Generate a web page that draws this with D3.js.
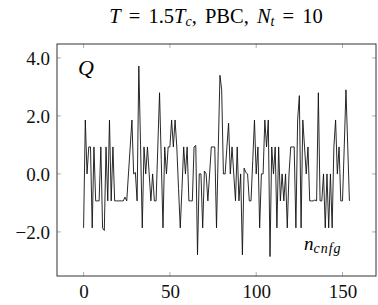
<!DOCTYPE html>
<html><head><meta charset="utf-8">
<script src="https://cdn.jsdelivr.net/npm/d3@7"></script>
<style>body{margin:0;background:#fff}</style>
</head><body><svg id="c" width="378" height="305"></svg>
<script>
const qValues = [
-1.86,1.86,0,0.93,0.93,-1.86,0.93,-0.93,-0.93,-0.93,
0.93,-1.86,-1.95,0.93,-0.93,1.86,-0.93,0.93,-0.93,-0.93,
-0.93,-0.93,-0.93,-0.93,-0.8,-0.93,0,0.93,1.86,0,
0.05,-0.93,3.72,1.0,-1.86,0.93,0,0.93,0,-0.93,
0,-0.93,-0.93,0.93,2.8,0.5,-1.86,0.93,0,0.93,
0.93,1.86,0.93,1.86,0.93,-0.5,-1.86,-0.5,0.93,0,
0.93,-0.93,-0.93,-0.93,0.93,0.98,-2.79,0,0,-1.86,
0.1,0,-0.93,0,0.93,0.93,0.93,-1.86,0.8,3.4,
2.9,0,0,0.9,1.75,0,0.93,0,-0.93,0.93,
-0.93,0,-2.79,0.2,0.05,0,-0.93,-0.93,0.47,1.86,
0,0.93,-1.86,0,0,1.86,0.93,1.86,-2.85,0.93,
0,0.93,-1.86,0.93,-0.93,0,-0.93,0,-1.86,0,
0.93,0.93,0.93,-1.86,1.86,2.7,-1.86,1.86,0.93,0,
0.93,-0.93,-0.93,-0.93,-0.9,-0.93,2.8,-0.93,-0.93,0,
-1.86,0,-1.86,0,-1.86,0.93,1.86,0,0.93,-0.93,
-0.93,0.93,2.9,1.0,-0.93
];
const nCnfg = qValues.map((d,i)=>i);
const xTicks = [0,50,100,150];
const yTicks = [4,2,0,-2];

const FONT = '"Liberation Serif","DejaVu Serif",serif';
const svg = d3.select("#c").style("font-family", FONT);
const L=57, R=376, T=44, B=276;
const x = d3.scaleLinear().domain([-15.4,169.4]).range([L,R]);
const y = d3.scaleLinear().domain([-3.52,4.48]).range([B,T]);

const tickCol="#999";
xTicks.forEach(t=>{
  svg.append("line").attr("x1",x(t)).attr("x2",x(t)).attr("y1",B).attr("y2",B-4).attr("stroke",tickCol).attr("stroke-width",0.8);
  svg.append("line").attr("x1",x(t)).attr("x2",x(t)).attr("y1",T).attr("y2",T+4).attr("stroke",tickCol).attr("stroke-width",0.8);
});
yTicks.forEach(t=>{
  svg.append("line").attr("x1",L).attr("x2",L+4).attr("y1",y(t)).attr("y2",y(t)).attr("stroke",tickCol).attr("stroke-width",0.8);
  svg.append("line").attr("x1",R).attr("x2",R-4).attr("y1",y(t)).attr("y2",y(t)).attr("stroke",tickCol).attr("stroke-width",0.8);
});

const xa = svg.append("g").attr("transform",`translate(0,${B})`)
  .call(d3.axisBottom(x).tickValues(xTicks).tickSize(0).tickPadding(9).tickFormat(d3.format("d")));
const ya = svg.append("g").attr("transform",`translate(${L},0)`)
  .call(d3.axisLeft(y).tickValues(yTicks).tickSize(0).tickPadding(7).tickFormat(d=>d3.format(".1f")(d).replace("-","\u2212")));
[xa,ya].forEach(g=>{
  g.attr("font-family",null).attr("font-size",null);
  g.select(".domain").remove();
  g.selectAll("text").style("font-family",FONT).style("font-size","19px").attr("fill","#111");
});

svg.append("path").datum(qValues)
  .attr("d", d3.line().x((d,i)=>x(nCnfg[i])).y(d=>y(d)))
  .attr("fill","none").attr("stroke","#111").attr("stroke-width",0.9);

svg.append("rect").attr("x",L).attr("y",T).attr("width",R-L).attr("height",B-T)
  .attr("fill","none").attr("stroke","#333").attr("stroke-width",1);

svg.append("text").attr("x",78).attr("y",75).style("font-size","22px").style("font-style","italic").style("font-family",FONT).text("Q");
const nl = svg.append("text").attr("x",304).attr("y",250).style("font-size","19px").style("font-style","italic").style("font-family",FONT);
nl.append("tspan").text("n");
nl.append("tspan").style("font-size","14px").attr("dy",3).attr("letter-spacing","1").text("cnfg");

const tt = svg.append("text").attr("x",216).attr("y",23).style("font-size","20.5px").style("word-spacing","3px").attr("text-anchor","middle").style("font-family",FONT);
tt.append("tspan").style("font-style","italic").text("T");
tt.append("tspan").text(" = 1.5");
tt.append("tspan").style("font-style","italic").text("T");
tt.append("tspan").style("font-style","italic").style("font-size","14px").attr("dy",3).text("c");
tt.append("tspan").attr("dy",-3).text(", PBC, ");
tt.append("tspan").style("font-style","italic").text("N");
tt.append("tspan").style("font-style","italic").style("font-size","14px").attr("dy",3).text("t");
tt.append("tspan").attr("dy",-3).text(" = 10");
</script></body></html>
